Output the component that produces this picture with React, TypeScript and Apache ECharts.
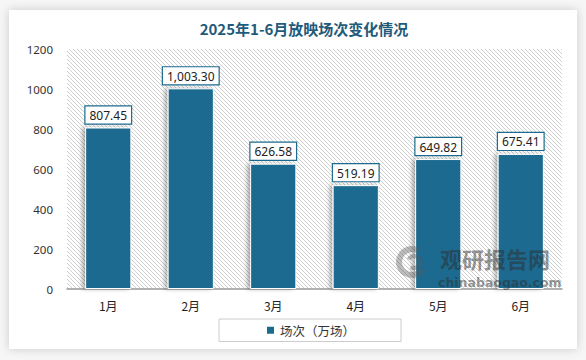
import React, { useEffect, useRef } from "react";
import * as echarts from "echarts";

const categories = ["1月", "2月", "3月", "4月", "5月", "6月"];
const sessions = [807.45, 1003.3, 626.58, 519.19, 649.82, 675.41];
const yTicks = { min: 0, max: 1200, interval: 200 };
const seriesName = "场次（万场）";
const titleText = "2025年1-6月放映场次变化情况";

function makeHatch() {
  const c = document.createElement("canvas");
  c.width = 4;
  c.height = 4;
  const ctx = c.getContext("2d")!;
  ctx.fillStyle = "#ffffff";
  ctx.fillRect(0, 0, 4, 4);
  ctx.strokeStyle = "#cfcfcf";
  ctx.lineWidth = 1;
  ctx.beginPath();
  ctx.moveTo(-1, -1);
  ctx.lineTo(5, 5);
  ctx.moveTo(-1, 3);
  ctx.lineTo(1, 5);
  ctx.moveTo(3, -1);
  ctx.lineTo(5, 1);
  ctx.stroke();
  return c;
}

export default function App() {
  const ref = useRef<HTMLDivElement>(null);
  useEffect(() => {
    if (!ref.current) return;
    const chart = echarts.init(ref.current, null, { renderer: "svg" });
    const barColor = "#1b6b8f";
    const wm = "rgba(45,45,45,0.5)";
    chart.setOption({
      animation: false,
      backgroundColor: "#f6f6f6",
      graphic: [
        {
          type: "rect",
          z: -10,
          silent: true,
          shape: { x: 9, y: 10, width: 568, height: 339 },
          style: { fill: "#ffffff", shadowBlur: 10, shadowColor: "rgba(0,0,0,0.18)" },
        },
        {
          type: "arc",
          z: 100,
          zlevel: 1,
          silent: true,
          shape: { cx: 412, cy: 262, r: 13, startAngle: 0.6, endAngle: 5.2 },
          style: { stroke: "rgba(90,90,90,0.4)", lineWidth: 6, fill: "none" },
        },
        {
          type: "arc",
          z: 100,
          zlevel: 1,
          silent: true,
          shape: { cx: 414, cy: 262, r: 6, startAngle: 3.6, endAngle: 8.4 },
          style: { stroke: "rgba(90,90,90,0.4)", lineWidth: 4, fill: "none" },
        },
        {
          type: "text",
          z: 100,
          zlevel: 1,
          silent: true,
          x: 440,
          y: 247,
          style: {
            text: "观研报告网",
            font: "bold 22px 'Noto Sans CJK SC'",
            fill: wm,
            verticalAlign: "top",
          },
        },
        {
          type: "text",
          z: 100,
          zlevel: 1,
          silent: true,
          x: 438,
          y: 276,
          style: {
            text: "chinabaogao.com",
            font: "bold 12.5px 'DejaVu Sans'",
            fill: wm,
            verticalAlign: "top",
          },
        },
      ],
      title: {
        text: titleText,
        left: 299,
        top: 16,
        textAlign: "center",
        textStyle: {
          fontFamily: "'Noto Sans CJK SC'",
          fontWeight: "bold",
          fontSize: 15,
          color: "#1f5b7a",
        },
      },
      legend: {
        left: 219,
        top: 319,
        padding: [5, 46, 5, 46],
        borderColor: "#cccccc",
        borderWidth: 1,
        icon: "rect",
        itemWidth: 9,
        itemHeight: 9,
        itemGap: 10,
        textStyle: { fontFamily: "'Noto Sans CJK SC'", fontSize: 12.5, color: "#333" },
        data: [seriesName],
      },
      grid: {
        left: 67,
        right: 24,
        top: 49,
        bottom: 71,
        show: true,
        borderWidth: 0,
        backgroundColor: { image: makeHatch(), repeat: "repeat" },
      },
      xAxis: {
        type: "category",
        data: categories,
        axisLine: { lineStyle: { color: "#999999", width: 1.5 } },
        axisTick: { show: false },
        axisLabel: {
          margin: 10,
          fontSize: 12,
          color: "#222",
          fontFamily: "'Noto Sans CJK SC'",
        },
      },
      yAxis: {
        type: "value",
        min: yTicks.min,
        max: yTicks.max,
        interval: yTicks.interval,
        axisLine: { show: false },
        axisTick: { show: false },
        splitLine: { show: false },
        axisLabel: {
          margin: 14,
          fontSize: 11.5,
          color: "#333",
          fontFamily: "'Noto Sans'",
          formatter: (v: number) => String(v),
        },
      },
      series: [
        {
          name: seriesName,
          type: "bar",
          data: sessions,
          barWidth: "56%",
          itemStyle: {
            color: barColor,
            borderColor: "#ffffff",
            borderWidth: 1,
            shadowBlur: 4,
            shadowOffsetX: -3,
            shadowOffsetY: 0,
            shadowColor: "rgba(0,0,0,0.3)",
          },
          label: {
            show: true,
            position: "top",
            distance: 4,
            formatter: (p: any) =>
              Number(p.value).toLocaleString("en-US", {
                minimumFractionDigits: 2,
                maximumFractionDigits: 2,
              }),
            backgroundColor: "#ffffff",
            borderColor: barColor,
            borderWidth: 1.2,
            padding: [3, 4, 2, 4],
            color: "#222",
            fontSize: 12,
            fontFamily: "'Noto Sans'",
          },
        },
      ],
    });
    return () => chart.dispose();
  }, []);
  return (
    <div
      ref={ref}
      style={{ position: "absolute", left: 0, top: 0, width: 586, height: 360 }}
    />
  );
}
